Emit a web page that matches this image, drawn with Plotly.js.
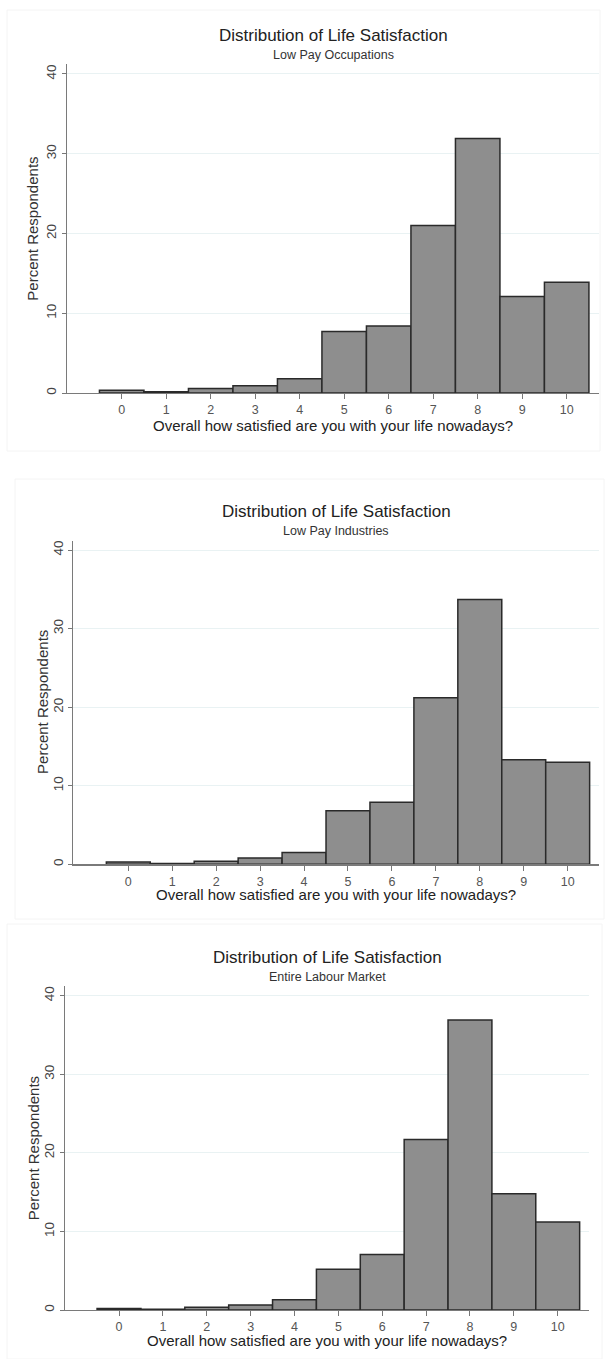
<!DOCTYPE html>
<html>
<head>
<meta charset="utf-8">
<script src="https://cdn.plot.ly/plotly-3.0.1.min.js"></script>
<style>
  html, body { margin: 0; padding: 0; background: #ffffff; }
  #chart { width: 606px; height: 1359px; }
</style>
</head>
<body>
<div id="chart"></div>
<script>
// ---- Data ----
const categories = [0, 1, 2, 3, 4, 5, 6, 7, 8, 9, 10];
const xTickLabels = ["0", "1", "2", "3", "4", "5", "6", "7", "8", "9", "10"];
const yTickValues = [0, 10, 20, 30, 40];
const yTickLabels = ["0", "10", "20", "30", "40"];

const lowPayOccupations = [0.35, 0.15, 0.55, 0.9, 1.8, 7.7, 8.4, 21.0, 31.9, 12.1, 13.9];
const lowPayIndustries = [0.3, 0.1, 0.4, 0.8, 1.5, 6.8, 7.9, 21.2, 33.7, 13.3, 13.0];
const entireLabourMarket = [0.2, 0.1, 0.34, 0.64, 1.3, 5.2, 7.05, 21.7, 36.9, 14.8, 11.2];

const mainTitle = "Distribution of Life Satisfaction";
const subtitles = ["Low Pay Occupations", "Low Pay Industries", "Entire Labour Market"];
const xTitle = "Overall how satisfied are you with your life nowadays?";
const yTitle = "Percent Respondents";

// ---- Layout geometry (pixels) ----
const W = 606, H = 1359;
const FONT = "Liberation Sans, Arial, sans-serif";
const panels = [
  { data: lowPayOccupations, x0: 66.7, x1: 599.3, yb: 393.0, yt: 64.4, xr: [-1.236, 10.733],
    titleY: 35.5, subY: 55.5, xtY: 425, ytX: 33, frame: [7, 10, 600, 451] },
  { data: lowPayIndustries, x0: 73.3, x1: 599.0, yb: 864.3, yt: 540.6, xr: [-1.252, 10.713],
    titleY: 511, subY: 530.5, xtY: 894.5, ytX: 42.5, frame: [15, 479, 604, 919] },
  { data: entireLabourMarket, x0: 65.0, x1: 589.3, yb: 1310.0, yt: 986.3, xr: [-1.231, 10.72],
    titleY: 957.7, subY: 977.3, xtY: 1340, ytX: 33, frame: [7, 924, 602, 1359] }
];
const px = v => v / W;
const py = v => 1 - v / H;

const traces = [];
const layout = {
  width: W, height: H,
  margin: { l: 0, r: 0, t: 0, b: 0, pad: 0 },
  paper_bgcolor: "#ffffff",
  plot_bgcolor: "#ffffff",
  showlegend: false,
  bargap: 0,
  font: { family: FONT, color: "#333333" },
  annotations: [],
  shapes: []
};

panels.forEach((p, i) => {
  const n = i === 0 ? "" : String(i + 1);
  traces.push({
    type: "bar",
    x: categories,
    y: p.data,
    width: 1,
    xaxis: "x" + n,
    yaxis: "y" + n,
    marker: { color: "#8e8e8e", line: { color: "#2a2a2a", width: 1.5 } },
    hoverinfo: "x+y"
  });
  layout["xaxis" + n] = {
    domain: [px(p.x0), px(p.x1)],
    anchor: "y" + n,
    range: p.xr,
    tickmode: "array",
    tickvals: categories,
    ticktext: xTickLabels,
    ticks: "outside", ticklen: 5, tickwidth: 1, tickcolor: "#777777",
    showline: true, linecolor: "#7a7a7a", linewidth: 1.2,
    showgrid: false, zeroline: false,
    tickfont: { family: FONT, size: 12.5, color: "#555555" },
    fixedrange: true
  };
  layout["yaxis" + n] = {
    domain: [py(p.yb), py(p.yt)],
    anchor: "x" + n,
    range: [0, 41.2],
    tickmode: "array",
    tickvals: yTickValues,
    ticktext: yTickLabels,
    tickangle: -90,
    ticks: "outside", ticklen: 4, tickwidth: 1, tickcolor: "#777777",
    showline: true, linecolor: "#7a7a7a", linewidth: 1.2,
    showgrid: true, gridcolor: "#e9f2f3", gridwidth: 1,
    zeroline: false,
    tickfont: { family: FONT, size: 13.5, color: "#444444" },
    fixedrange: true
  };
  const cx = px((p.x0 + p.x1) / 2);
  layout.annotations.push(
    { text: mainTitle, xref: "paper", yref: "paper", x: cx, y: py(p.titleY),
      xanchor: "center", yanchor: "middle", showarrow: false,
      font: { family: FONT, size: 17, color: "#222222" } },
    { text: subtitles[i], xref: "paper", yref: "paper", x: cx, y: py(p.subY),
      xanchor: "center", yanchor: "middle", showarrow: false,
      font: { family: FONT, size: 12.5, color: "#333333" } },
    { text: xTitle, xref: "paper", yref: "paper", x: cx, y: py(p.xtY),
      xanchor: "center", yanchor: "middle", showarrow: false,
      font: { family: FONT, size: 15, color: "#222222" } },
    { text: yTitle, xref: "paper", yref: "paper", x: px(p.ytX), y: py((p.yb + p.yt) / 2),
      xanchor: "center", yanchor: "middle", showarrow: false, textangle: -90,
      font: { family: FONT, size: 15, color: "#333333" } }
  );
  layout.shapes.push({
    type: "rect", xref: "paper", yref: "paper", layer: "below",
    x0: px(p.frame[0]), x1: px(p.frame[2]), y0: py(p.frame[3]), y1: py(p.frame[1]),
    line: { color: "#f4f4f4", width: 1 }, fillcolor: "rgba(0,0,0,0)"
  });
});

Plotly.newPlot("chart", traces, layout, { staticPlot: true, displayModeBar: false });
</script>
</body>
</html>
